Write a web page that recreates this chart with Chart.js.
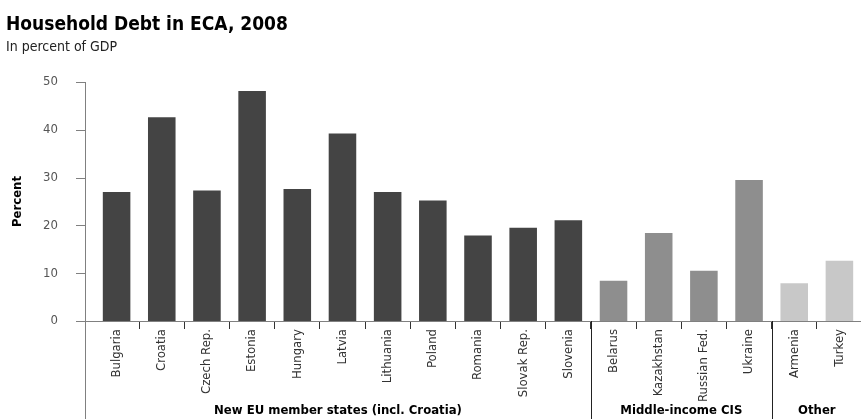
<!DOCTYPE html>
<html>
<head>
<meta charset="utf-8">
<script src="https://cdn.jsdelivr.net/npm/chart.js@4/dist/chart.umd.min.js"></script>
<style>
  html, body { margin: 0; padding: 0; background: #fff; overflow: hidden; }
  #wrap { width: 862px; height: 419px; }
</style>
</head>
<body>
<div id="wrap"><canvas id="chart" width="862" height="419"></canvas></div>
<script>
// data
const countries = ['Bulgaria', 'Croatia', 'Czech Rep.', 'Estonia', 'Hungary', 'Latvia', 'Lithuania',
                   'Poland', 'Romania', 'Slovak Rep.', 'Slovenia',
                   'Belarus', 'Kazakhstan', 'Russian Fed.', 'Ukraine',
                   'Armenia', 'Turkey'];
const debtValues = [27.0, 42.6, 27.3, 48.1, 27.6, 39.2, 27.0, 25.2, 17.9, 19.5, 21.1,
                    8.4, 18.4, 10.5, 29.5,
                    7.9, 12.6];
const groupNames = ['New EU member states (incl. Croatia)', 'Middle-income CIS', 'Other'];
const groupSizes = [11, 4, 2];
const groupColors = ['#444444', '#8e8e8e', '#c8c8c8'];
const yTicks = [0, 10, 20, 30, 40, 50];

const narrow = "'DejaVu Sans Condensed', 'DejaVu Sans', sans-serif";

const barColors = [];
groupSizes.forEach((n, g) => { for (let i = 0; i < n; i++) barColors.push(groupColors[g]); });

// y axis line, ticks, zero line, group dividers and group names
const groupAxisPlugin = {
    id: 'groupAxis',
    afterDraw(chart) {
        const {ctx, chartArea, scales: {x, y}} = chart;
        const axisX = chartArea.left - 9;
        const zeroY = y.getPixelForValue(0);
        const half = (x.getPixelForValue(1) - x.getPixelForValue(0)) / 2;
        ctx.save();
        ctx.strokeStyle = '#808080';
        ctx.lineWidth = 1;
        ctx.beginPath();
        ctx.moveTo(axisX + 0.5, y.getPixelForValue(yTicks[yTicks.length - 1]));
        ctx.lineTo(axisX + 0.5, chart.height);
        yTicks.forEach(v => {
            const py = Math.round(y.getPixelForValue(v)) + 0.5;
            ctx.moveTo(axisX - 9, py);
            ctx.lineTo(axisX, py);
        });
        ctx.moveTo(axisX - 9, Math.round(zeroY) + 0.5);
        ctx.lineTo(chartArea.right, Math.round(zeroY) + 0.5);
        ctx.stroke();

        ctx.strokeStyle = '#222';
        ctx.fillStyle = '#000';
        ctx.font = 'bold 13px ' + narrow;
        ctx.textAlign = 'center';
        ctx.textBaseline = 'middle';
        let start = 0;
        groupSizes.forEach((n, g) => {
            const left = x.getPixelForValue(start) - half;
            const right = x.getPixelForValue(start + n - 1) + half;
            if (start > 0) {
                ctx.beginPath();
                ctx.moveTo(Math.round(left) + 0.5, zeroY);
                ctx.lineTo(Math.round(left) + 0.5, chart.height);
                ctx.stroke();
            }
            const from = start === 0 ? axisX : left;
            ctx.fillText(groupNames[g], (from + right) / 2, zeroY + 90);
            start += n;
        });
        ctx.restore();
    }
};

new Chart(document.getElementById('chart'), {
    type: 'bar',
    data: {
        labels: countries,
        datasets: [{
            label: 'Household debt',
            data: debtValues,
            backgroundColor: barColors,
            borderWidth: 0,
            barPercentage: 0.61,
            categoryPercentage: 1.0
        }]
    },
    options: {
        responsive: false,
        animation: false,
        layout: {padding: {left: 6, right: 0, top: 0, bottom: 0}},
        plugins: {
            legend: {display: false},
            tooltip: {enabled: false},
            title: {
                display: true,
                text: 'Household Debt in ECA, 2008',
                align: 'start',
                color: '#000',
                font: {family: narrow, size: 19, weight: 'bold'},
                padding: {top: 14, bottom: 0}
            },
            subtitle: {
                display: true,
                text: 'In percent of GDP',
                align: 'start',
                color: '#222',
                font: {family: narrow, size: 14},
                padding: {top: 2, bottom: 26.4}
            }
        },
        scales: {
            x: {
                offset: true,
                border: {display: false},
                grid: {
                    offset: true,
                    drawOnChartArea: false,
                    drawTicks: true,
                    tickLength: 8,
                    color: ctx => (ctx.index === 0 ? 'rgba(0,0,0,0)' : '#333')
                },
                ticks: {
                    autoSkip: false,
                    minRotation: 90,
                    maxRotation: 90,
                    padding: 0,
                    color: '#333',
                    font: {family: narrow, size: 13}
                },
                afterFit: scale => { scale.height = 98; }
            },
            y: {
                min: 0,
                max: 50,
                border: {display: false},
                grid: {display: false, drawTicks: false},
                afterBuildTicks: scale => { scale.ticks = yTicks.map(v => ({value: v})); },
                ticks: {
                    padding: 36,
                    color: '#555',
                    font: {family: narrow, size: 13}
                },
                title: {
                    display: true,
                    text: 'Percent',
                    color: '#000',
                    font: {family: narrow, size: 13, weight: 'bold'},
                    padding: {top: 4, bottom: 0}
                },
                afterFit: scale => { scale.width = 88; }
            }
        }
    },
    plugins: [groupAxisPlugin]
});
</script>
</body>
</html>
